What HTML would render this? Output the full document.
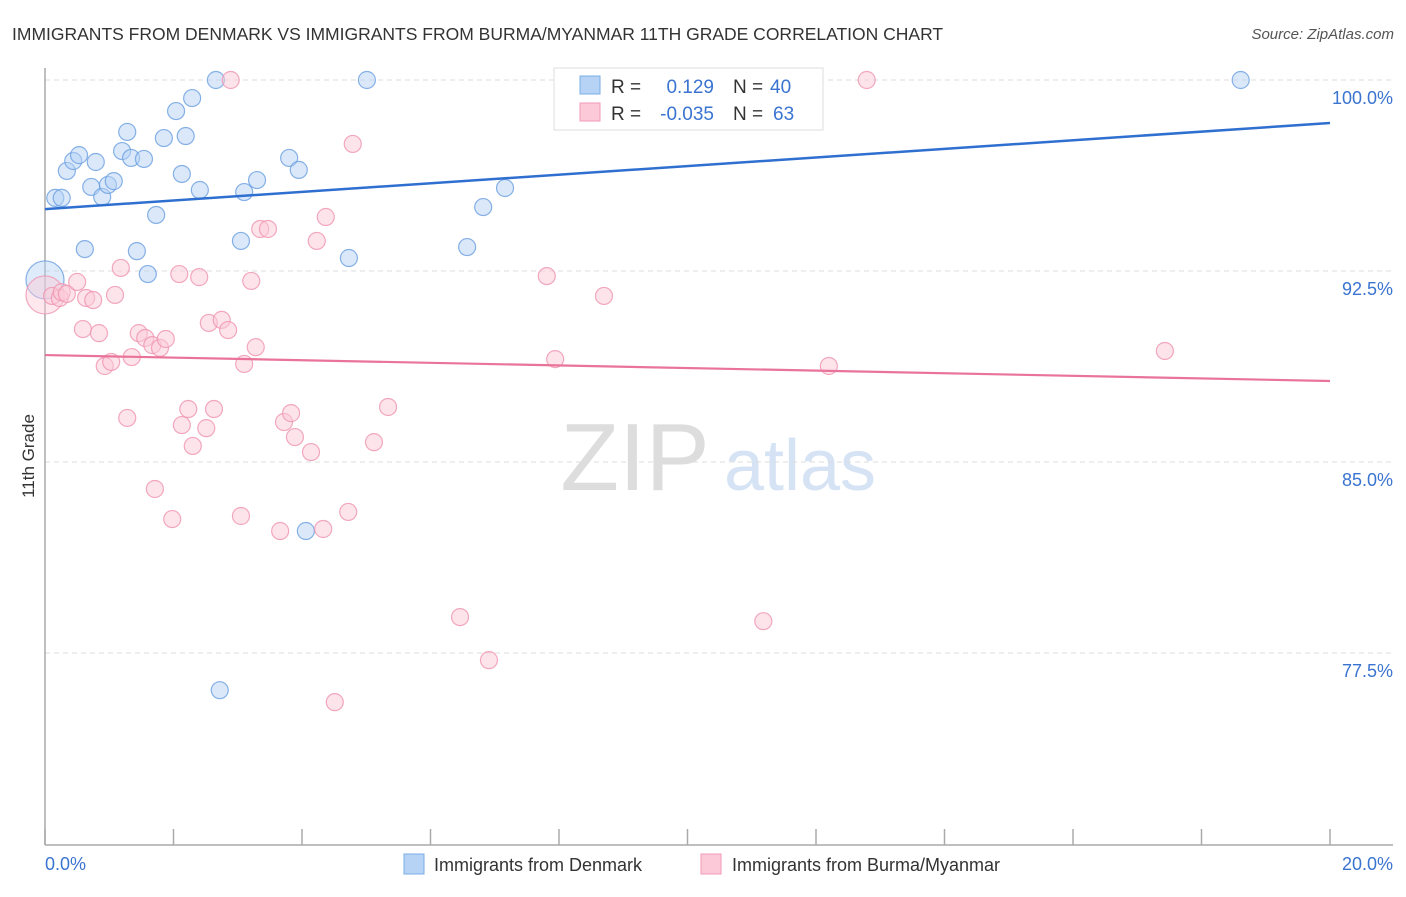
<!DOCTYPE html>
<html><head><meta charset="utf-8"><style>
body{margin:0;background:#fff;font-family:"Liberation Sans",sans-serif}
svg text{font-family:"Liberation Sans",sans-serif}
</style></head><body>
<svg width="1406" height="892" xmlns="http://www.w3.org/2000/svg">
<text x="12" y="40" font-size="17.5" fill="#333">IMMIGRANTS FROM DENMARK VS IMMIGRANTS FROM BURMA/MYANMAR 11TH GRADE CORRELATION CHART</text>
<text x="1394" y="39" font-size="15" fill="#555" font-style="italic" text-anchor="end">Source: ZipAtlas.com</text>
<text x="34" y="456" font-size="17" fill="#333" transform="rotate(-90 34 456)" text-anchor="middle">11th Grade</text>
<g>
<text x="635" y="490" font-size="96" fill="#ddd" font-family="Liberation Serif" text-anchor="middle">ZIP</text>
<text x="800" y="490" font-size="72" fill="#d5e3f5" text-anchor="middle">atlas</text>
</g>
<g id="grid"></g>
<g id="axes"></g>
<g id="marks"></g>
<g id="trends"></g>
<g>
<rect x="554" y="68" width="269" height="62" fill="#fff" stroke="#ddd"/>
<rect x="580" y="76" width="20" height="18" fill="#b6d2f5" stroke="#7aaee8"/>
<rect x="580" y="103" width="20" height="18" fill="#fcc9d8" stroke="#f09ab5"/>
<text x="611" y="93" font-size="19" fill="#333">R = </text>
<text x="714" y="93" font-size="19" fill="#3a74d0" text-anchor="end">0.129</text>
<text x="733" y="93" font-size="19" fill="#333">N = </text>
<text x="770" y="93" font-size="19" fill="#3a74d0">40</text>
<text x="611" y="120" font-size="19" fill="#333">R = </text>
<text x="714" y="120" font-size="19" fill="#3a74d0" text-anchor="end">-0.035</text>
<text x="733" y="120" font-size="19" fill="#333">N = </text>
<text x="773" y="120" font-size="19" fill="#3a74d0">63</text>
</g>
<g>
<rect x="404" y="854" width="20" height="20" fill="#b6d2f5" stroke="#7aaee8"/>
<text x="434" y="871" font-size="18" fill="#333">Immigrants from Denmark</text>
<rect x="701" y="854" width="20" height="20" fill="#fcc9d8" stroke="#f09ab5"/>
<text x="732" y="871" font-size="18" fill="#333">Immigrants from Burma/Myanmar</text>
</g>
</svg>
<script>
const yTicks=[100,92.5,85,77.5];
const yTickLabels=["100.0%","92.5%","85.0%","77.5%"];
const xTicks=[0,2,4,6,8,10,12,14,16,18,20];
const xEndLabels=["0.0%","20.0%"];
const blueX=[0,0.16,0.26,0.34,0.44,0.53,0.62,0.72,0.79,0.89,0.98,1.07,1.28,1.20,1.34,1.54,1.43,1.60,1.73,1.85,2.04,2.13,2.19,2.29,2.41,2.66,2.72,3.05,3.10,3.30,3.80,3.95,4.06,4.73,5.01,6.57,6.82,7.16,8.64,18.61];
const blueY=[92.15,95.37,95.37,96.43,96.82,97.05,93.36,95.80,96.78,95.41,95.88,96.03,97.96,97.21,96.94,96.90,93.28,92.38,94.70,97.72,98.78,96.31,97.80,99.29,95.68,100,76.04,93.68,95.60,96.07,96.94,96.47,82.29,93.01,100,93.44,95.01,95.76,100,100];
const pinkX=[0,0.11,0.23,0.26,0.34,0.50,0.64,0.75,0.59,0.84,0.93,1.03,1.09,1.18,1.28,1.35,1.46,1.56,1.67,1.79,1.88,1.71,1.98,2.09,2.13,2.23,2.30,2.40,2.51,2.55,2.63,2.75,2.85,3.05,3.10,3.21,3.28,3.35,3.47,3.66,3.72,3.83,3.89,4.14,4.23,4.33,4.37,4.72,4.79,5.12,5.34,2.89,6.46,6.91,4.51,7.81,7.94,8.70,9.95,11.18,12.20,12.79,17.43];
const pinkY=[91.56,91.52,91.44,91.67,91.60,92.07,91.44,91.36,90.22,90.06,88.77,88.93,91.56,92.62,86.73,89.12,90.06,89.87,89.59,89.48,89.83,83.94,82.76,92.38,86.45,87.08,85.63,92.26,86.33,90.46,87.08,90.58,90.18,82.88,88.85,92.11,89.51,94.15,94.15,82.29,86.57,86.92,85.98,85.39,93.68,82.37,94.62,83.04,97.49,85.78,87.16,100,78.91,77.22,75.57,92.30,89.04,91.52,100,78.75,88.77,100,89.36];
const blueTrend=[94.93,98.31];
const pinkTrend=[89.20,88.18];
const X0=45,X1=1330,Y0=80,PXV=191/7.5;
const xs=v=>X0+v*(X1-X0)/20;
const ys=v=>Y0+(100-v)*PXV;
const NS="http://www.w3.org/2000/svg";
function mk(tag,attrs,parent){const e=document.createElementNS(NS,tag);for(const k in attrs)e.setAttribute(k,attrs[k]);document.getElementById(parent).appendChild(e);return e;}
yTicks.forEach((t,i)=>{
 const l=mk('line',{x1:X0,x2:1393,y1:ys(t),y2:ys(t),stroke:'#ddd','stroke-dasharray':'5,4'},'grid');
 
 
 const tx=mk('text',{x:1393,y:ys(t)+24,'font-size':18,fill:'#3a74d0','text-anchor':'end'},'grid');
 tx.textContent=yTickLabels[i];
 
 
});
let a=mk('line',{x1:X0,x2:X0,y1:68,y2:845,stroke:'#aaa','stroke-width':1.5},'axes');


a=mk('line',{x1:X0,x2:1393,y1:845,y2:845,stroke:'#aaa','stroke-width':1.5},'axes');


xTicks.forEach(t=>{
 const l=mk('line',{x1:xs(t),x2:xs(t),y1:829,y2:845,stroke:'#aaa','stroke-width':1.5},'axes');
 
 
});
let t0=mk('text',{x:45,y:870,'font-size':18,fill:'#3a74d0'},'axes');t0.textContent=xEndLabels[0];


let t1=mk('text',{x:1393,y:870,'font-size':18,fill:'#3a74d0','text-anchor':'end'},'axes');t1.textContent=xEndLabels[1];


function pts(X,Y,fill,stroke,name){
 X.forEach((x,i)=>{
  const c=mk('circle',{cx:xs(x),cy:ys(Y[i]),r:(i===0?19:8.5),fill:fill,'fill-opacity':(i===0?0.45:0.5),stroke:stroke,'stroke-opacity':0.8,'stroke-width':1.2},'marks');
  
  
 });
}
pts(blueX,blueY,'#b6d2f5','#6a9fe0','point-denmark');
pts(pinkX,pinkY,'#fcc9d8','#ef94b0','point-burma');
let tl=mk('line',{x1:xs(0),x2:xs(20),y1:ys(blueTrend[0]),y2:ys(blueTrend[1]),stroke:'#2f6fd0','stroke-width':2.5},'trends');


tl=mk('line',{x1:xs(0),x2:xs(20),y1:ys(pinkTrend[0]),y2:ys(pinkTrend[1]),stroke:'#e9739a','stroke-width':2.2},'trends');


</script>
</body></html>
